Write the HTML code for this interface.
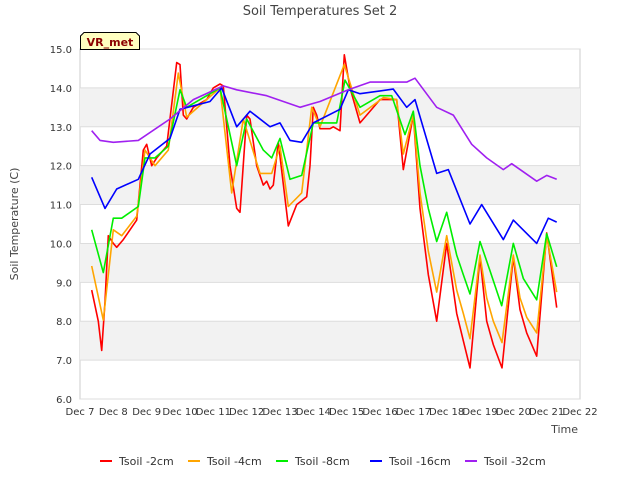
<!DOCTYPE html>
<html><head><meta charset="utf-8"><style>
body{margin:0;background:#fff;font-family:"Liberation Sans","DejaVu Sans",sans-serif}
svg text{font-family:"DejaVu Sans","Liberation Sans",sans-serif}
</style></head><body>
<svg id="c" width="640" height="480"></svg>
<script>
const xTickLabels=["Dec 7","Dec 8","Dec 9","Dec 10","Dec 11","Dec 12","Dec 13","Dec 14","Dec 15","Dec 16","Dec 17","Dec 18","Dec 19","Dec 20","Dec 21","Dec 22"];
const yTicks=[6,7,8,9,10,11,12,13,14,15];
const seriesNames=["Tsoil -2cm","Tsoil -4cm","Tsoil -8cm","Tsoil -16cm","Tsoil -32cm"];
const seriesColors=["#ff0000","#ffa500","#00ee00","#0000ff","#a020f0"];
const redDays=[0.35,0.55,0.65,0.75,0.85,1.0,1.1,1.3,1.7,1.9,2.0,2.15,2.3,2.6,2.9,3.0,3.1,3.2,3.4,3.8,4.0,4.2,4.3,4.5,4.7,4.8,5.0,5.1,5.3,5.5,5.6,5.7,5.8,5.95,6.25,6.5,6.8,6.9,7.0,7.1,7.2,7.5,7.6,7.8,7.93,8.1,8.4,8.6,9.0,9.3,9.5,9.7,10.0,10.2,10.45,10.7,11.0,11.3,11.5,11.7,12.0,12.2,12.4,12.66,13.0,13.2,13.4,13.7,14.0,14.3];
const redVals=[8.8,8.0,7.25,8.5,10.2,10.0,9.9,10.1,10.6,12.4,12.55,12.0,12.2,12.5,14.65,14.6,13.3,13.2,13.5,13.7,14.0,14.1,14.05,12.0,10.9,10.8,13.3,13.2,12.0,11.5,11.6,11.4,11.5,12.6,10.45,11.0,11.2,12.0,13.5,13.3,12.95,12.95,13.0,12.9,14.85,14.0,13.1,13.3,13.7,13.7,13.7,11.9,13.3,10.9,9.2,8.0,10.0,8.2,7.5,6.8,9.65,8.0,7.4,6.8,9.65,8.3,7.7,7.1,10.27,8.35];
const orangeDays=[0.35,0.7,1.0,1.25,1.7,1.95,2.25,2.65,2.95,3.2,4.2,4.55,4.9,5.4,5.75,6.0,6.25,6.65,6.95,7.2,7.93,8.4,9.1,9.5,9.7,10.0,10.2,10.45,10.7,11.0,11.3,11.5,11.7,12.0,12.2,12.4,12.66,13.0,13.2,13.4,13.7,14.0,14.3];
const orangeVals=[9.42,8.03,10.35,10.2,10.7,12.4,12.0,12.4,14.38,13.25,14.0,11.3,13.2,11.8,11.8,12.5,10.95,11.3,13.5,13.0,14.6,13.3,13.75,13.7,12.3,13.3,11.3,9.8,8.75,10.2,8.8,8.2,7.55,9.7,8.6,8.0,7.45,9.7,8.6,8.1,7.7,10.2,8.75];
const greenDays=[0.35,0.7,1.0,1.25,1.75,1.95,2.25,2.65,3.0,3.2,4.2,4.7,5.0,5.5,5.75,6.0,6.3,6.65,7.0,7.7,7.95,8.4,9.0,9.35,9.75,10.0,10.2,10.45,10.7,11.0,11.3,11.5,11.7,12.0,12.3,12.65,13.0,13.3,13.7,14.0,14.3];
const greenVals=[10.35,9.25,10.65,10.65,10.95,12.2,12.2,12.5,13.95,13.5,14.0,12.0,13.2,12.4,12.2,12.7,11.65,11.75,13.1,13.1,14.2,13.5,13.8,13.8,12.8,13.4,12.0,10.9,10.05,10.8,9.7,9.2,8.7,10.05,9.3,8.4,10.0,9.1,8.55,10.25,9.4];
const blueDays=[0.35,0.75,1.1,1.75,2.1,2.7,3.0,3.9,4.25,4.7,5.1,5.7,6.0,6.3,6.65,7.0,7.8,8.05,8.4,9.4,9.8,10.05,10.7,11.05,11.7,12.05,12.7,13.0,13.7,14.05,14.3];
const blueVals=[11.7,10.9,11.4,11.65,12.3,12.7,13.45,13.65,14.0,13.0,13.4,13.0,13.1,12.65,12.6,13.1,13.45,13.95,13.85,13.97,13.5,13.7,11.8,11.9,10.5,11.0,10.1,10.6,10.0,10.65,10.55];
const purpleDays=[0.35,0.6,1.0,1.75,2.7,3.4,4.3,4.7,5.6,6.6,7.0,7.2,8.05,8.7,9.8,10.05,10.7,11.2,11.75,12.2,12.7,12.95,13.7,14.0,14.3];
const purpleVals=[12.9,12.65,12.6,12.65,13.2,13.7,14.05,13.95,13.8,13.5,13.6,13.65,13.95,14.15,14.15,14.25,13.5,13.3,12.55,12.2,11.9,12.05,11.6,11.75,11.65];

const NS="http://www.w3.org/2000/svg",svg=document.getElementById('c');
const X0=80,X1=580,Y0=399,Y1=49;
const xs=d=>X0+d*(X1-X0)/15, ys=v=>Y0-(v-6)*(Y0-Y1)/9;
function mk(t,a,p){const e=document.createElementNS(NS,t);for(const k in a)e.setAttribute(k,a[k]);(p||svg).appendChild(e);return e;}
const bg=mk('rect',{x:X0,y:Y1,width:X1-X0,height:Y0-Y1,fill:'#fff',stroke:'#ccc'});


for(let v=6;v<15;v++){ if(v%2===1){const b=mk('rect',{x:X0,y:ys(v+1),width:X1-X0,height:ys(v)-ys(v+1),fill:'#f2f2f2'});

}}
yTicks.forEach(v=>{const l=mk('line',{x1:X0,x2:X1,y1:ys(v),y2:ys(v),stroke:'#ddd'});


const t=mk('text',{x:X0-8,y:ys(v)+4,'text-anchor':'end','font-size':10,fill:'#333'});t.textContent=v.toFixed(1);

});
xTickLabels.forEach((s,i)=>{const t=mk('text',{x:xs(i),y:Y0+16,'text-anchor':'middle','font-size':10,fill:'#333'});t.textContent=s;

});
const allD=[redDays,orangeDays,greenDays,blueDays,purpleDays],allV=[redVals,orangeVals,greenVals,blueVals,purpleVals];
allD.forEach((D,i)=>{const p=mk('polyline',{points:D.map((d,j)=>xs(d).toFixed(1)+','+ys(allV[i][j]).toFixed(1)).join(' '),fill:'none',stroke:seriesColors[i],'stroke-width':1.6,'stroke-linejoin':'round'});

});
const title=mk('text',{x:320,y:15,'text-anchor':'middle','font-size':13,fill:'#444'});title.textContent='Soil Temperatures Set 2';


const yt=mk('text',{x:18,y:224,'text-anchor':'middle','font-size':11,fill:'#444',transform:'rotate(-90 18 224)'});yt.textContent='Soil Temperature (C)';


const xt=mk('text',{x:578,y:433,'text-anchor':'end','font-size':11,fill:'#444'});xt.textContent='Time';


const vb=mk('path',{d:'M80.5,49.5 L80.5,36 L84,32.5 L136,32.5 L139.5,36 L139.5,49.5 Z',fill:'#ffffc0',stroke:'#000'});


const vt=mk('text',{x:110,y:46,'text-anchor':'middle','font-size':11,'font-weight':'bold',fill:'#8b0000'});vt.textContent='VR_met';


const lx=[100,188,276,370,465];
seriesNames.forEach((n,i)=>{const g=mk('g',{});


mk('line',{x1:lx[i],x2:lx[i]+12,y1:461,y2:461,stroke:seriesColors[i],'stroke-width':2},g);
const t=mk('text',{x:lx[i]+19,y:465,'font-size':11,fill:'#333'},g);t.textContent=n;});
</script>
</body></html>
